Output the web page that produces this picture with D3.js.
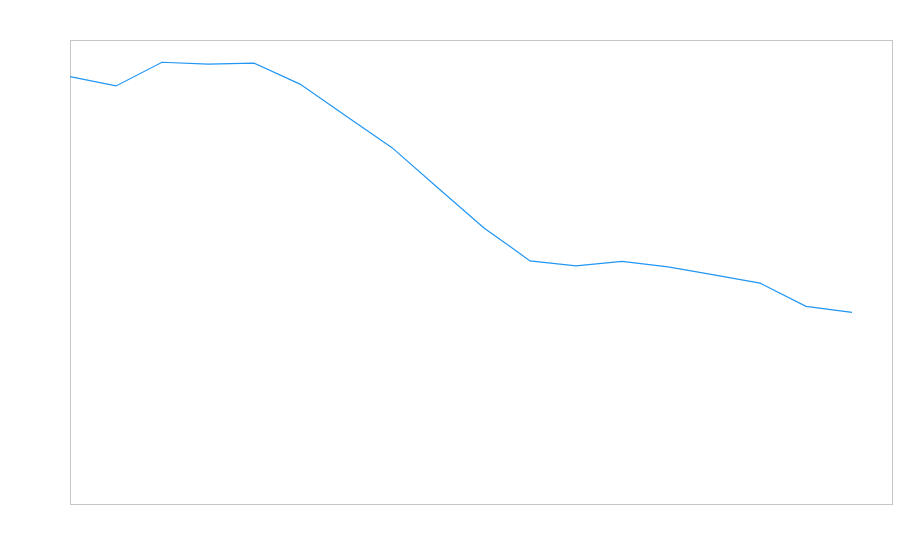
<!DOCTYPE html>
<html>
<head>
<meta charset="utf-8">
<script src="https://cdn.jsdelivr.net/npm/d3@7"></script>
<style>
  html, body { margin: 0; padding: 0; background: #fff; }
  svg { display: block; }
</style>
</head>
<body>
<svg id="chart" width="900" height="560"></svg>
<script>
// Data (no axis labels are shown in the reference)
const categories = [0, 1, 2, 3, 4, 5, 6, 7, 8, 9, 10, 11, 12, 13, 14, 15, 16, 17];
const values = [92.1, 90.1, 95.2, 94.8, 95.0, 90.5, 83.6, 76.8, 68.1, 59.5, 52.4, 51.3, 52.3, 51.1, 49.4, 47.6, 42.6, 41.3];

const svg = d3.select("#chart");
const frame = { left: 70, top: 40, right: 892, bottom: 504 };

const x = d3.scaleLinear()
  .domain([0, 17])
  .range([frame.left, 852]);

const y = d3.scaleLinear()
  .domain([0, 100])
  .range([frame.bottom, frame.top]);

// plot frame
svg.append("rect")
  .attr("x", frame.left + 0.5)
  .attr("y", frame.top + 0.5)
  .attr("width", frame.right - frame.left)
  .attr("height", frame.bottom - frame.top)
  .attr("fill", "none")
  .attr("stroke", "#c6c6c6")
  .attr("stroke-width", 1);

const line = d3.line()
  .x((d, i) => x(categories[i]))
  .y(d => y(d));

svg.append("path")
  .datum(values)
  .attr("d", line)
  .attr("fill", "none")
  .attr("stroke", "#2196f3")
  .attr("stroke-width", 1.2);
</script>
</body>
</html>
